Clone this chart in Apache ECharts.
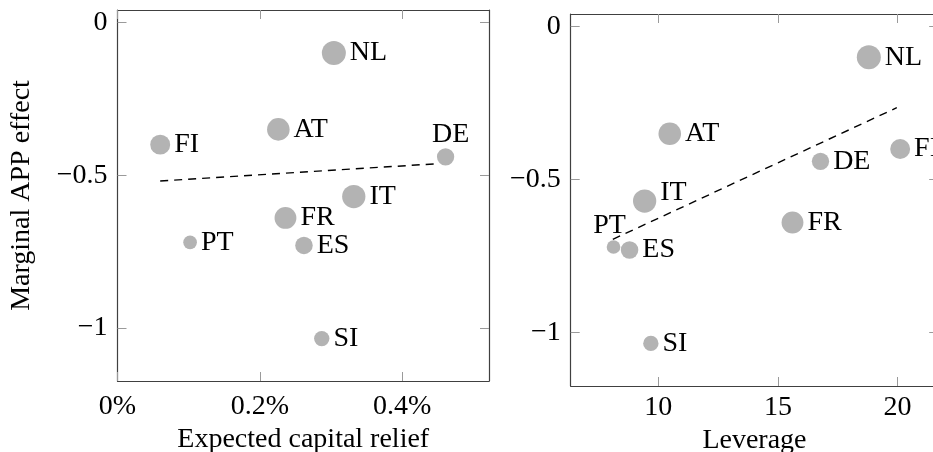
<!DOCTYPE html>
<html>
<head>
<meta charset="utf-8">
<script src="https://cdn.jsdelivr.net/npm/echarts@6/dist/echarts.min.js"></script>
<style>
  html, body { margin: 0; padding: 0; background: #fff; }
  #chart { width: 933px; height: 452px; }
</style>
</head>
<body>
<div id="chart"></div>
<script>
// ---- data ----
const countries     = ['NL', 'AT', 'FI', 'DE', 'IT', 'FR', 'PT', 'ES', 'SI'];
const appEffect     = [-0.10, -0.35, -0.40, -0.44, -0.57, -0.64, -0.72, -0.73, -1.035];
const capitalRelief = [0.304, 0.226, 0.060, 0.461, 0.332, 0.236, 0.102, 0.262, 0.287];
const leverage      = [18.80, 10.48, 20.11, 16.78, 9.43, 15.61, 8.13, 8.80, 9.69];
const bubbleWeight  = [1.00, 0.94, 0.83, 0.72, 0.97, 0.91, 0.57, 0.73, 0.64];

const reliefFitX   = [0.060, 0.452];
const reliefFitY   = [-0.519, -0.462];
const leverageFitX = [8.10, 19.97];
const leverageFitY = [-0.695, -0.265];

const reliefTicks   = [0, 0.2, 0.4];
const leverageTicks = [10, 15, 20];
const effectTicks   = [-1, -0.5, 0];

// ---- styling ----
const FONT = "'Liberation Serif', 'Times New Roman', serif";
const FS = 28;
const frameLine = { show: true, onZero: false, lineStyle: { color: '#404040', width: 1.2 } };
const tickStyle = { color: '#9a9a9a', width: 1 };
const minusFmt = v => (v < 0 ? '\u2212' + Math.abs(v) : String(v));

function bubbles(xs, overrides) {
  return countries.map((c, i) => {
    const d = { name: c, value: [xs[i], appEffect[i]], symbolSize: 24 * bubbleWeight[i] };
    if (overrides[c]) d.label = overrides[c];
    return d;
  });
}
function fitLine(xs, ys) { return xs.map((x, i) => [x, ys[i]]); }

function xAxes(grid, min, max, ticks, fmt, name, labelMargin, nameGap) {
  return [
    { gridIndex: grid, type: 'value', min: min, max: max, position: 'bottom',
      axisLine: frameLine,
      axisTick: { show: true, inside: true, length: 9, lineStyle: tickStyle, customValues: ticks },
      axisLabel: { show: true, customValues: ticks, formatter: fmt, margin: labelMargin,
                   fontFamily: FONT, fontSize: FS, color: '#000' },
      splitLine: { show: false },
      name: name, nameLocation: 'middle', nameGap: nameGap,
      nameTextStyle: { fontFamily: FONT, fontSize: FS, color: '#000' } },
    { gridIndex: grid, type: 'value', min: min, max: max, position: 'top',
      axisLine: frameLine,
      axisTick: { show: true, inside: true, length: 9, lineStyle: tickStyle, customValues: ticks },
      axisLabel: { show: false }, splitLine: { show: false } }
  ];
}
function yAxes(grid, name) {
  const a = [
    { gridIndex: grid, type: 'value', min: -1.174, max: 0.041, position: 'left',
      axisLine: frameLine,
      axisTick: { show: true, inside: true, length: 9, lineStyle: tickStyle, customValues: effectTicks },
      axisLabel: { show: true, customValues: effectTicks, formatter: minusFmt, margin: 10,
                   fontFamily: FONT, fontSize: FS, color: '#000' },
      splitLine: { show: false } },
    { gridIndex: grid, type: 'value', min: -1.174, max: 0.041, position: 'right',
      axisLine: frameLine,
      axisTick: { show: true, inside: true, length: 9, lineStyle: tickStyle, customValues: effectTicks },
      axisLabel: { show: false }, splitLine: { show: false } }
  ];
  if (name) {
    Object.assign(a[0], { name: name, nameLocation: 'middle', nameGap: 82, nameRotate: 90,
      nameTextStyle: { fontFamily: FONT, fontSize: FS, color: '#000' } });
  }
  return a;
}

const bubbleLabel = {
  show: true, position: 'right', distance: 4, formatter: '{b}',
  fontFamily: FONT, fontSize: FS, color: '#000'
};

const option = {
  animation: false,
  backgroundColor: '#fff',
  textStyle: { fontFamily: FONT },
  grid: [
    { left: 117.5, top: 10, width: 371.5, height: 371, containLabel: false, outerBoundsMode: 'none' },
    { left: 570.7, top: 14, width: 367.5, height: 372, containLabel: false, outerBoundsMode: 'none' }
  ],
  xAxis: [
    ...xAxes(0, 0, 0.522, reliefTicks, v => v + '%', 'Expected capital relief', 12, 45),
    ...xAxes(1, 6.34, 21.7, leverageTicks, v => String(v), 'Leverage', 8, 40)
  ],
  yAxis: [
    ...yAxes(0, 'Marginal APP effect'),
    ...yAxes(1, null)
  ],
  series: [
    { type: 'line', xAxisIndex: 0, yAxisIndex: 0, data: fitLine(reliefFitX, reliefFitY),
      symbol: 'none', silent: true, z: 1,
      lineStyle: { color: '#000', width: 1.4, type: [8, 6] } },
    { type: 'scatter', xAxisIndex: 0, yAxisIndex: 0, z: 2,
      itemStyle: { color: '#b3b3b3', opacity: 1 },
      label: bubbleLabel,
      data: bubbles(capitalRelief, {
        DE: { position: 'top', distance: 2, offset: [5, 2] }
      }) },
    { type: 'line', xAxisIndex: 2, yAxisIndex: 2, data: fitLine(leverageFitX, leverageFitY),
      symbol: 'none', silent: true, z: 1,
      lineStyle: { color: '#000', width: 1.4, type: [8, 6] } },
    { type: 'scatter', xAxisIndex: 2, yAxisIndex: 2, z: 2,
      itemStyle: { color: '#b3b3b3', opacity: 1 },
      label: bubbleLabel,
      data: bubbles(leverage, {
        IT: { position: 'right', distance: 4, offset: [0, -8] },
        PT: { position: 'top', distance: 2, offset: [-4, 1] }
      }) }
  ]
};

const chart = echarts.init(document.getElementById('chart'), null, { renderer: 'canvas' });
chart.setOption(option);
</script>
</body>
</html>
